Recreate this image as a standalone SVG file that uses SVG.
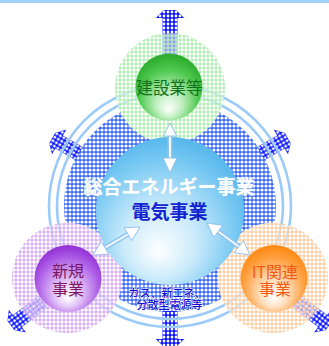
<svg xmlns="http://www.w3.org/2000/svg" width="329" height="346" viewBox="0 0 329 346">
<style>
.jp{font-family:"Noto Sans CJK JP","Noto Sans CJK SC",sans-serif;text-anchor:middle;}
.jp2{font-family:"Liberation Sans","Noto Sans CJK JP","Noto Sans CJK SC",sans-serif;text-anchor:middle;}
.ring{fill:none;stroke:#9ccbfa;stroke-width:2.6;}
.barrow{fill:url(#pArrow);}
.veil{fill:#fff;fill-opacity:0.55;}
.whead{fill:#fff;stroke:#7fb6ea;stroke-width:0.8;stroke-linejoin:round;}
.wshaft1{stroke:#8ec5f3;stroke-width:5;}
.wshaft2{stroke:#ffffff;stroke-width:1.8;}
</style>
<defs>
<pattern id="pBlue" width="4" height="4" patternUnits="userSpaceOnUse">
<rect width="4" height="4" fill="#fff"/>
<path d="M0 0H4V4H0Z M2 0.4A1.6 1.6 0 1 0 2 3.6A1.6 1.6 0 1 0 2 0.4Z" fill="#3a68fa" fill-rule="evenodd"/>
</pattern>
<pattern id="pArrow" width="4" height="4" patternUnits="userSpaceOnUse">
<path d="M0 0H4V4H0Z M2 0.6A1.4 1.4 0 1 0 2 3.4A1.4 1.4 0 1 0 2 0.6Z" fill="#0a14ff" fill-rule="evenodd"/>
</pattern>
<pattern id="pGreen" width="4" height="4" patternUnits="userSpaceOnUse">
<path d="M0 0H4V4H0Z M2 0.3A1.7 1.7 0 1 0 2 3.7A1.7 1.7 0 1 0 2 0.3Z" fill="#a9ecab" fill-rule="evenodd"/>
</pattern>
<pattern id="pPurple" width="4" height="4" patternUnits="userSpaceOnUse">
<path d="M0 0H4V4H0Z M2 0.3A1.7 1.7 0 1 0 2 3.7A1.7 1.7 0 1 0 2 0.3Z" fill="#d6a6f2" fill-rule="evenodd"/>
</pattern>
<pattern id="pOrange" width="4" height="4" patternUnits="userSpaceOnUse">
<path d="M0 0H4V4H0Z M2 0.3A1.7 1.7 0 1 0 2 3.7A1.7 1.7 0 1 0 2 0.3Z" fill="#ffc898" fill-rule="evenodd"/>
</pattern>
<mask id="mHalo" maskUnits="userSpaceOnUse" x="0" y="0" width="329" height="346">
<rect width="329" height="346" fill="#fff"/>
<circle cx="170" cy="88" r="55" fill="#000"/>
<circle cx="67" cy="278" r="55" fill="#000"/>
<circle cx="273" cy="278" r="55" fill="#000"/>
</mask>
<radialGradient id="gGreen" cx="0.5" cy="0.62" r="0.58" fx="0.5" fy="0.84">
<stop offset="0" stop-color="#ffffff"/>
<stop offset="0.35" stop-color="#bdeebd"/>
<stop offset="0.75" stop-color="#4fc94f"/>
<stop offset="1" stop-color="#2fae2f"/>
</radialGradient>
<radialGradient id="gPurple" cx="0.5" cy="0.6" r="0.58" fx="0.5" fy="0.8">
<stop offset="0" stop-color="#ffffff"/>
<stop offset="0.35" stop-color="#e2c4f7"/>
<stop offset="0.78" stop-color="#ad5ee6"/>
<stop offset="1" stop-color="#9433d6"/>
</radialGradient>
<radialGradient id="gOrange" cx="0.5" cy="0.6" r="0.58" fx="0.5" fy="0.8">
<stop offset="0" stop-color="#ffffff"/>
<stop offset="0.35" stop-color="#ffe0bf"/>
<stop offset="0.78" stop-color="#ffa040"/>
<stop offset="1" stop-color="#ff8a14"/>
</radialGradient>
<radialGradient id="gBlue" cx="0.45" cy="0.62" r="0.62" fx="0.42" fy="0.78">
<stop offset="0" stop-color="#ffffff"/>
<stop offset="0.4" stop-color="#c9eafb"/>
<stop offset="0.82" stop-color="#74c7f2"/>
<stop offset="1" stop-color="#58b7ec"/>
</radialGradient>
</defs>

<rect id="topband" x="0" y="0" width="329" height="3" fill="#a4cffb"/>

<g id="energy-field">
<circle cx="170" cy="206" r="106" fill="url(#pBlue)" mask="url(#mHalo)"/>
</g>

<g id="outward-arrows">
<polygon class="barrow" transform="translate(170,10)" points="-6,0 6,0 14.5,8 7.5,8 7.5,94 -7.5,94 -7.5,8 -14.5,8"/>
<polygon class="barrow" transform="translate(170,347) rotate(180)" points="-6,0 6,0 14.5,8 7.5,8 7.5,36 -7.5,36 -7.5,8 -14.5,8"/>
<polygon class="barrow" transform="translate(52.2,138) rotate(-60)" points="-6,0 6,0 14.5,8 7.5,8 7.5,31 -7.5,31 -7.5,8 -14.5,8"/>
<polygon class="barrow" transform="translate(287.8,138) rotate(60)" points="-6,0 6,0 14.5,8 7.5,8 7.5,31 -7.5,31 -7.5,8 -14.5,8"/>
<polygon class="barrow" transform="translate(11,325.8) rotate(-127)" points="-6,0 6,0 14.5,8 7.5,8 7.5,40 -7.5,40 -7.5,8 -14.5,8"/>
<polygon class="barrow" transform="translate(329,325.8) rotate(127)" points="-6,0 6,0 14.5,8 7.5,8 7.5,40 -7.5,40 -7.5,8 -14.5,8"/>
</g>

<g id="rings">
<circle class="ring" cx="170" cy="206" r="121"/>
<circle class="ring" cx="170" cy="206" r="113"/>
</g>

<g id="halos">
<circle class="veil" cx="170" cy="88" r="55"/>
<circle cx="170" cy="88" r="55" fill="url(#pGreen)"/>
<circle class="veil" cx="67" cy="278" r="55"/>
<circle cx="67" cy="278" r="55" fill="url(#pPurple)"/>
<circle class="veil" cx="273" cy="278" r="55"/>
<circle cx="273" cy="278" r="55" fill="url(#pOrange)"/>
</g>

<g id="core">
<circle cx="170" cy="211" r="74" fill="url(#gBlue)"/>
<text class="jp" x="169" y="193.5" font-size="19" font-weight="bold" fill="#ffffff" stroke="#a9d6f5" stroke-width="0.7" paint-order="stroke">総合エネルギー事業</text>
<text class="jp" x="169.5" y="218.5" font-size="19" font-weight="bold" fill="#1422d0">電気事業</text>
<text class="jp2" font-size="11" font-weight="500" fill="#1010d4" stroke="#ffffff" stroke-width="0.8" paint-order="stroke"><tspan x="167" y="296.6">ガス、新エネ、</tspan><tspan x="169.5" y="309">分散型電源等</tspan></text>
</g>

<g id="construction">
<circle cx="169" cy="87" r="33.5" fill="url(#gGreen)"/>
<text class="jp" x="169.5" y="93.8" font-size="16.5" fill="#11701c">建設業等</text>
</g>

<g id="new-business">
<circle cx="68" cy="278.5" r="33.5" fill="url(#gPurple)"/>
<text class="jp2" font-size="16" fill="#7d1660"><tspan x="68" y="276.5">新規</tspan><tspan x="68" y="294.5">事業</tspan></text>
</g>

<g id="it-business">
<circle cx="274" cy="278.5" r="33.5" fill="url(#gOrange)"/>
<text class="jp2" font-size="16" fill="#f05a14"><tspan x="275" y="278">IT関連</tspan><tspan x="275" y="294.5">事業</tspan></text>
</g>

<g id="connectors">
<line class="wshaft1" x1="170" y1="135" x2="170" y2="159"/>
<line class="wshaft2" x1="170" y1="135" x2="170" y2="159"/>
<polygon class="whead" points="170,123 176.5,136 163.5,136"/>
<polygon class="whead" points="170,173 177,158 163,158"/>
<line class="wshaft1" x1="105" y1="247.8" x2="128" y2="234.2"/>
<line class="wshaft2" x1="105" y1="247.8" x2="128" y2="234.2"/>
<polygon class="whead" points="140,227 131.8,240.6 124.1,227.7"/>
<polygon class="whead" points="93,255 108.9,254.3 101.2,241.4"/>
<line class="wshaft1" x1="218.2" y1="231.4" x2="238.8" y2="246.6"/>
<line class="wshaft2" x1="218.2" y1="231.4" x2="238.8" y2="246.6"/>
<polygon class="whead" points="207,223 213.8,237.4 222.7,225.3"/>
<polygon class="whead" points="250,255 234.3,252.7 243.3,240.6"/>
</g>
</svg>
